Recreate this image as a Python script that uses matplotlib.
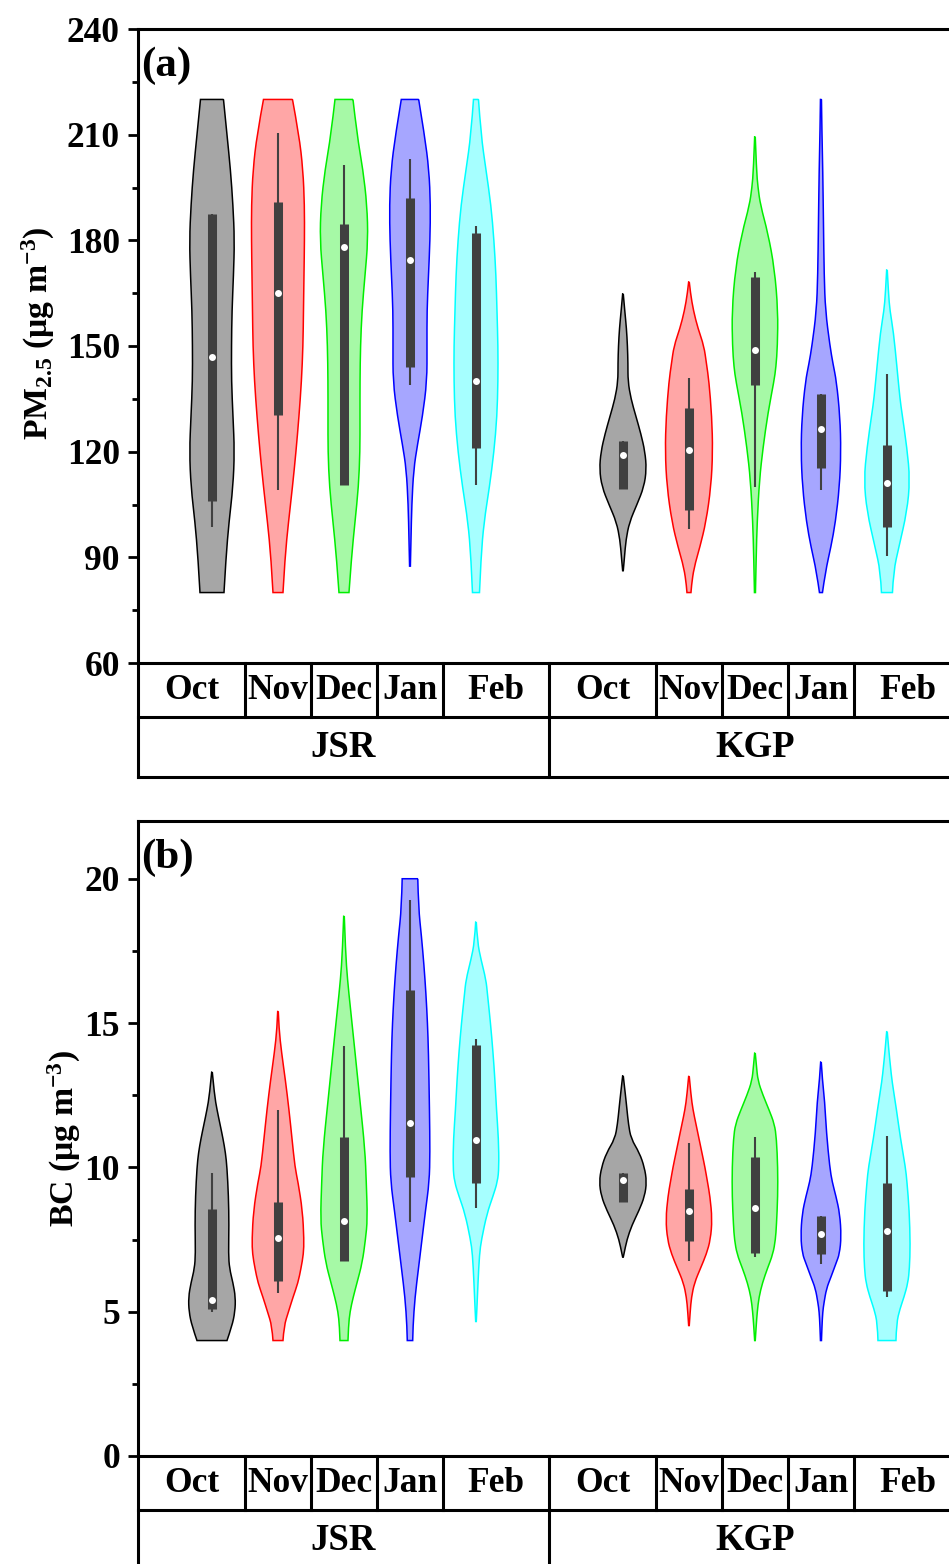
import numpy as np
import matplotlib
matplotlib.use("Agg")
import matplotlib.pyplot as plt
from matplotlib.ticker import MultipleLocator
from matplotlib.path import Path
from matplotlib.patches import PathPatch

plt.rcParams['font.family'] = ['Liberation Serif', 'DejaVu Serif']
plt.rcParams['font.weight'] = 'bold'
plt.rcParams['mathtext.fontset'] = 'custom'
plt.rcParams['mathtext.rm'] = 'Liberation Serif:bold'
plt.rcParams['mathtext.it'] = 'Liberation Serif:italic:bold'
plt.rcParams['mathtext.bf'] = 'Liberation Serif:bold'

# ---------------- data ----------------
months = ["Oct", "Nov", "Dec", "Jan", "Feb"]
sites = ["JSR", "KGP"]
edge_colors = ["#000000", "#ff0000", "#00ee00", "#0000ff", "#00ffff"]

# violin outlines: value levels and half-widths (relative density, px-like units)
pm_jsr_y = [
    [220, 210, 200, 190, 180, 170, 160, 150, 140, 130, 120, 110, 100, 90, 80],
    [220, 210, 200, 190, 180, 170, 160, 150, 140, 130, 120, 110, 100, 90, 80],
    [220, 210, 200, 190, 180, 170, 160, 150, 140, 130, 120, 110, 100, 90, 80],
    [220, 210, 200, 190, 180, 170, 160, 150, 140, 130, 122, 115, 105, 95, 87.5],
    [220, 210, 200, 190, 180, 170, 160, 150, 140, 130, 120, 110, 100, 90, 80],
]
pm_jsr_w = [
    [11.5, 15, 18.5, 21, 22.5, 21.5, 20, 19.5, 19.5, 21, 22.5, 21, 17, 14, 12],
    [14.5, 21, 25, 26.5, 26.5, 26, 25.5, 25, 23.5, 21, 18, 14.5, 10.5, 7, 5],
    [9, 13, 19, 23, 24, 21, 18, 16.5, 16, 16, 16, 14.5, 11, 7.5, 5],
    [8.7, 14.5, 19, 20.5, 20, 18.5, 17, 17, 17, 12.5, 7.5, 3.7, 1.8, 1, 0.4],
    [2.5, 5, 10, 15, 18, 20, 21, 22, 22, 21, 18, 13.5, 8, 5, 3.5],
]
pm_kgp_y = [
    [164.8, 160, 155, 150, 145, 140, 135, 130, 125, 120, 115, 110, 105, 100, 95, 90, 86.2],
    [168.2, 165, 160, 155, 150, 145, 140, 130, 120, 110, 100, 93, 87, 82, 80],
    [209.4, 200, 195, 190, 182, 172, 160, 150, 144, 140, 131, 121, 112, 100, 90, 80],
    [220, 210, 200, 185, 170, 160, 150, 145, 140, 130, 120, 110, 100, 93, 86, 80],
    [171.6, 165, 160, 154, 144, 135, 131, 121, 112, 103, 93, 86, 80],
]
pm_kgp_w = [
    [0.3, 1.8, 3.5, 4.5, 5, 5, 8, 13, 18, 22, 23.5, 21, 14, 6.5, 3, 1.5, 0.3],
    [0.3, 1.5, 4.5, 9, 15, 17.5, 20, 22.8, 23.8, 22, 17, 11, 5, 2.5, 2],
    [0.3, 1.5, 3, 5.5, 13, 19.5, 23, 22.5, 21, 19, 13, 8, 4.5, 2.2, 1.2, 0.5],
    [0.5, 1, 1.8, 2.5, 3.2, 4.5, 9, 12, 15.5, 19, 20, 18.5, 14.5, 10, 4.5, 1.5],
    [0.3, 1.5, 3, 6.5, 10, 13, 15, 20, 23, 20, 12, 6.5, 5.5],
]
pm_jsr_q1 = [106, 130.5, 110.5, 144, 121]
pm_jsr_q3 = [187.5, 191, 184.5, 192, 182]
pm_jsr_med = [147, 165, 178, 174.5, 140]
pm_jsr_lo = [98.5, 109, 110.5, 139, 110.5]
pm_jsr_hi = [187.5, 210.5, 201.5, 203, 184]
pm_kgp_q1 = [109.5, 103.5, 139, 115.5, 98.5]
pm_kgp_q3 = [123, 132.5, 169.5, 136.5, 122]
pm_kgp_med = [119, 120.5, 149, 126.5, 111]
pm_kgp_lo = [109.5, 98, 110, 109, 90.5]
pm_kgp_hi = [123, 141, 171, 136.5, 142]

bc_jsr_y = [
    [13.3, 12.5, 12, 11.5, 11, 10.5, 10, 9, 8, 7, 6.5, 6, 5.5, 5, 4.5, 4],
    [15.4, 14.8, 14, 13, 12, 11, 10, 9.5, 8.5, 7.5, 7, 6.5, 6, 5.5, 5, 4.5, 4],
    [18.7, 17.5, 16.5, 15.5, 14, 12.3, 10.6, 9.5, 8.2, 7.5, 6.7, 6, 5.5, 5, 4.5, 4],
    [20, 19, 18, 17, 16, 15, 14, 12, 10.5, 9.5, 8.5, 7.5, 6.5, 5.5, 4.5, 4],
    [18.5, 17.8, 17.2, 16.5, 16, 15, 14, 13, 12, 11, 10, 9.5, 9, 8.4, 7.5, 7, 6, 5, 4.66],
]
bc_jsr_w = [
    [0.3, 2.5, 5, 8, 11, 13.5, 15, 16.5, 17, 16.5, 17.5, 21, 23.5, 23, 20, 15],
    [0.3, 1, 3.5, 7.5, 11, 14, 17, 20, 24.5, 26, 25.5, 23, 20, 15, 10.5, 6, 5],
    [0.3, 1.5, 3.5, 6.5, 11, 16, 21, 22.3, 23.5, 21.5, 18.3, 13, 9.2, 6, 4.5, 4],
    [7.8, 8.5, 11.5, 14, 16, 17.5, 18.5, 19.5, 20, 19.3, 15.5, 12, 8.5, 5, 3, 2.7],
    [0.3, 1.5, 5, 10, 11.5, 14.5, 17, 19, 20.5, 22.5, 23, 21.5, 17, 11, 5.5, 3.5, 2, 0.8, 0.3],
]
bc_kgp_y = [
    [13.17, 12.5, 12, 11.5, 11, 10.5, 10, 9.5, 9, 8.5, 8, 7.5, 7, 6.89],
    [13.15, 12.5, 12, 11.5, 11, 10.5, 10, 9.5, 9, 8.2, 7.5, 7, 6.5, 6, 5.5, 5, 4.52],
    [13.96, 13.5, 13, 12.5, 12, 11.5, 11, 10, 9, 8, 7.5, 7, 6.5, 6, 5.5, 5, 4.5, 4],
    [13.65, 13, 12.3, 11.2, 10, 9.5, 9, 8.4, 7.6, 7, 6.7, 6.2, 5.8, 5.3, 5, 4.5, 4],
    [14.7, 14, 13.5, 13, 12, 11, 10, 9.5, 8.5, 7.3, 6.5, 6, 5.5, 5.1, 4.6, 4],
]
bc_kgp_w = [
    [0.3, 2.5, 4, 5.5, 8, 16.5, 21.5, 23.7, 21.7, 16, 9, 4, 1, 0.3],
    [0.3, 2, 4, 7, 10, 13, 16, 18.5, 21, 23.2, 21.5, 17.5, 11.5, 5.5, 2.5, 1.2, 0.3],
    [0.3, 1.5, 3, 8, 14, 19.5, 21.5, 22.8, 22.8, 21.5, 20.5, 18, 12.5, 7.5, 4, 2.3, 1.2, 0.3],
    [0.3, 1.5, 3.7, 5.5, 8.8, 11.2, 15, 18.8, 20.3, 18.5, 15.3, 10, 5.5, 3, 1.8, 1, 0.5],
    [0.3, 2, 3.5, 5, 9.5, 13.5, 18.5, 20, 22.3, 23.3, 22.5, 21, 17, 13, 9.5, 9],
]
bc_jsr_q1 = [5.1, 6.05, 6.75, 9.65, 9.45]
bc_jsr_q3 = [8.55, 8.8, 11.05, 16.15, 14.25]
bc_jsr_med = [5.4, 7.55, 8.15, 11.55, 10.95]
bc_jsr_lo = [5.0, 5.65, 6.75, 8.1, 8.6]
bc_jsr_hi = [9.8, 12.0, 14.2, 19.25, 14.45]
bc_kgp_q1 = [8.8, 7.45, 7.05, 7.0, 5.7]
bc_kgp_q3 = [9.8, 9.25, 10.35, 8.3, 9.45]
bc_kgp_med = [9.55, 8.5, 8.6, 7.7, 7.8]
bc_kgp_lo = [8.8, 6.75, 6.9, 6.65, 5.5]
bc_kgp_hi = [9.8, 10.85, 11.05, 8.3, 11.1]

# ---------------- layout ----------------
jsr_pos = np.arange(1, 6, dtype=float)
kgp_pos = np.arange(5, dtype=float) + 7.227
XMIN, XMAX = -0.121, 12.364
GROUP_DIV = 6.106
WSCALE = 1.0 / 66.0
ROW1, ROW2 = -0.0852, -0.1798
LW_FRAME = 2.2
FS = 25.5
FS_SITE = 26.5
FS_LABEL = 24.3

fig = plt.figure(figsize=(9.49, 15.64), dpi=100)
ax_a = fig.add_axes([138 / 949, 1 - 663 / 1564, 824 / 949, 634 / 1564])
ax_b = fig.add_axes([138 / 949, 1 - 1456 / 1564, 824 / 949, 635 / 1564])


def smooth_side(pts):
    """Quadratic-Bezier path pieces along one side of the outline (read points as controls)."""
    verts, codes = [], []
    n = len(pts)
    for i in range(1, n - 1):
        mid = ((pts[i][0] + pts[i + 1][0]) / 2, (pts[i][1] + pts[i + 1][1]) / 2)
        if i == n - 2:
            mid = pts[n - 1]
        verts += [pts[i], mid]
        codes += [Path.CURVE3, Path.CURVE3]
    if n == 2:
        verts.append(pts[1])
        codes.append(Path.LINETO)
    return verts, codes


def draw_violins(ax, positions, ys, ws, q1, q3, med, lo, hi):
    for i, p in enumerate(positions):
        y = list(ys[i])
        w = [v * WSCALE for v in ws[i]]
        c = edge_colors[i]
        right = [(p + wi, yi) for wi, yi in zip(w, y)]
        left = [(p - wi, yi) for wi, yi in zip(w, y)][::-1]
        verts = [right[0]]
        codes = [Path.MOVETO]
        v, cd = smooth_side(right)
        verts += v
        codes += cd
        verts.append(left[0])
        codes.append(Path.LINETO)
        v, cd = smooth_side(left)
        verts += v
        codes += cd
        verts.append(right[0])
        codes.append(Path.LINETO)
        patch = PathPatch(Path(verts, codes),
                          facecolor=matplotlib.colors.to_rgba(c, 0.35),
                          edgecolor=c, lw=1.1, zorder=2)
        ax.add_patch(patch)
        ax.vlines(p, lo[i], hi[i], color='#404040', lw=1.5, zorder=4)
        ax.vlines(p, q1[i], q3[i], color='#404040', lw=6.5, zorder=5)
        ax.plot([p], [med[i]], 'o', color='white', ms=5, mec='none', zorder=6)


def draw_table(ax):
    tr = ax.get_xaxis_transform()
    kw = dict(transform=tr, color='black', lw=LW_FRAME, clip_on=False,
              solid_capstyle='projecting', zorder=10)
    ax.plot([XMIN, XMAX], [ROW1, ROW1], **kw)
    ax.plot([XMIN, XMAX], [ROW2, ROW2], **kw)
    ax.plot([XMIN, XMIN], [0, ROW2], **kw)
    ax.plot([GROUP_DIV, GROUP_DIV], [0, ROW2], **kw)
    for pos in (jsr_pos, kgp_pos):
        for p in pos[:4]:
            ax.plot([p + 0.5, p + 0.5], [0, ROW1], **kw)
    edges_j = [XMIN] + list(jsr_pos[:4] + 0.5) + [GROUP_DIV]
    edges_k = [GROUP_DIV] + list(kgp_pos[:4] + 0.5) + [XMAX]
    for edges in (edges_j, edges_k):
        for i, m in enumerate(months):
            ax.text((edges[i] + edges[i + 1]) / 2, ROW1 / 2, m, transform=tr,
                    ha='center', va='center', fontsize=FS, fontweight='bold')
    ax.text((XMIN + GROUP_DIV) / 2, (ROW1 + ROW2) / 2, sites[0], transform=tr,
            ha='center', va='center', fontsize=FS_SITE, fontweight='bold')
    ax.text((GROUP_DIV + XMAX) / 2, (ROW1 + ROW2) / 2, sites[1], transform=tr,
            ha='center', va='center', fontsize=FS_SITE, fontweight='bold')


def style_axes(ax, ylim, major, minor, label, labely, letter, labelx):
    ax.set_xlim(XMIN, XMAX)
    ax.set_ylim(*ylim)
    ax.yaxis.set_major_locator(MultipleLocator(major))
    ax.yaxis.set_minor_locator(MultipleLocator(minor))
    ax.set_xticks([])
    for s in ax.spines.values():
        s.set_linewidth(LW_FRAME)
    ax.tick_params(axis='y', which='major', direction='out', length=7, width=2.0,
                   labelsize=FS, pad=6)
    ax.tick_params(axis='y', which='minor', direction='out', length=4, width=2.0)
    for t in ax.get_yticklabels():
        t.set_fontweight('bold')
    ax.set_ylabel(label, fontsize=FS_LABEL, fontweight='bold')
    ax.yaxis.set_label_coords(labelx, labely)
    ax.text(0.004, 0.972, letter, transform=ax.transAxes, ha='left', va='top',
            fontsize=31, fontweight='bold')


draw_violins(ax_a, jsr_pos, pm_jsr_y, pm_jsr_w, pm_jsr_q1, pm_jsr_q3, pm_jsr_med, pm_jsr_lo, pm_jsr_hi)
draw_violins(ax_a, kgp_pos, pm_kgp_y, pm_kgp_w, pm_kgp_q1, pm_kgp_q3, pm_kgp_med, pm_kgp_lo, pm_kgp_hi)
draw_violins(ax_b, jsr_pos, bc_jsr_y, bc_jsr_w, bc_jsr_q1, bc_jsr_q3, bc_jsr_med, bc_jsr_lo, bc_jsr_hi)
draw_violins(ax_b, kgp_pos, bc_kgp_y, bc_kgp_w, bc_kgp_q1, bc_kgp_q3, bc_kgp_med, bc_kgp_lo, bc_kgp_hi)

style_axes(ax_a, (60, 240), 30, 15, r'PM$_{2.5}$ (μg m$^{-3}$)', 0.52, '(a)', -0.098)
style_axes(ax_b, (0, 22), 5, 2.5, r'BC (μg m$^{-3}$)', 0.50, '(b)', -0.067)
draw_table(ax_a)
draw_table(ax_b)

fig.savefig('out.png', dpi=100)
